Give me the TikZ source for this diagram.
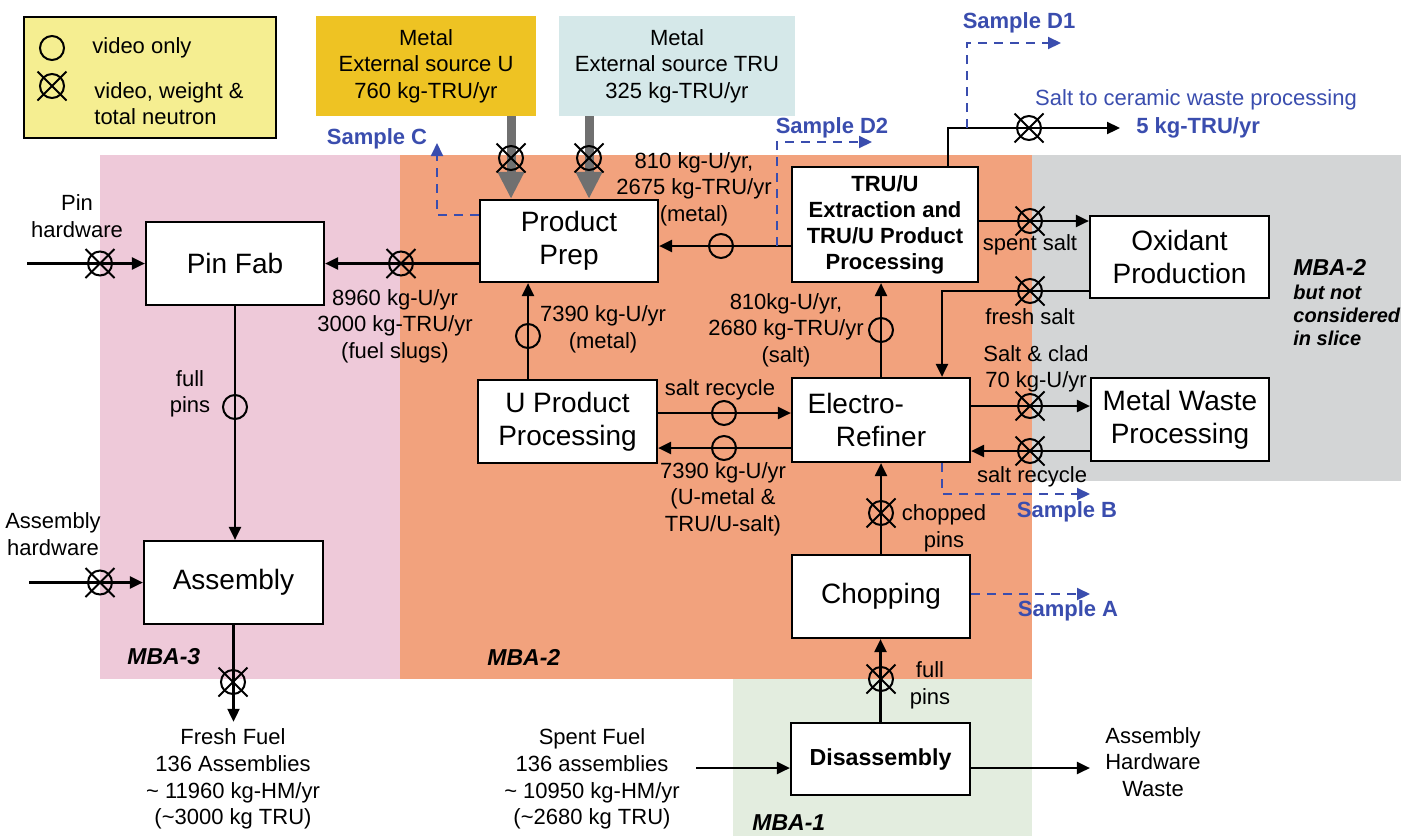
\documentclass[tikz,border=0pt]{standalone}
\usepackage{fontspec}
\setmainfont{Liberation Sans}
\usetikzlibrary{arrows.meta, positioning, shapes.misc}

\definecolor{mbapink}{HTML}{EEC9D9}
\definecolor{mbaorange}{HTML}{F2A27D}
\definecolor{mbagray}{HTML}{D3D5D6}
\definecolor{mbagreen}{HTML}{E3EDDF}
\definecolor{legendyellow}{HTML}{F5EE91}
\definecolor{srcgold}{HTML}{EEC323}
\definecolor{srcblue}{HTML}{D5E8E9}
\definecolor{sampleblue}{HTML}{3A4DAE}
\definecolor{feedgray}{HTML}{707070}

\tikzset{
  >={Triangle[length=6.5pt, width=6pt]}, % filled heads on all flows
  unit/.style={draw, fill=white, line width=1.1pt, align=center,
    font=\fontsize{14}{16.5}\selectfont}, % a process step
  boldunit/.style={unit, font=\fontsize{11}{13}\selectfont\bfseries},
  flow/.style={->, line width=1.1pt}, % material flow
  feed/.style={-{Triangle[length=13.5pt, width=12.5pt]}, draw=feedgray,
    line width=4.5pt}, % external metal feed
  sample/.style={->, draw=sampleblue, line width=1pt,
    dash pattern=on 4.5pt off 3.5pt}, % sampling point
  vonly/.style={draw, circle, line width=1pt, inner sep=0pt,
    minimum size=12pt}, % video only
  vwn/.style={vonly, label={[draw, cross out, line width=1pt,
    inner sep=0pt, minimum size=13.5pt]center:}}, % video, weight & neutron
  note/.style={align=center}, % text on the flows
  samplenote/.style={text=sampleblue, font=\fontsize{11}{13}\selectfont\bfseries},
  mba/.style={inner sep=0pt, font=\fontsize{11.5}{13}\selectfont\bfseries\itshape},
}

\begin{document}
\begin{tikzpicture}[x=0.5pt, y=-0.5pt, font=\fontsize{11}{13.3}\selectfont]
  \useasboundingbox (0,0) rectangle (1401,836);

  % material balance areas
  \fill[mbaorange] (400,155) rectangle (1032,679);
  \fill[mbapink] (100,155) rectangle (400,679);
  \fill[mbagray] (1032,155) rectangle (1401,481);
  \fill[mbagreen] (733,679) rectangle (1032,836);
  \node[mba, anchor=west] (mba3) at (127,657) {MBA-3};
  \node[mba, anchor=west] (mba2) at (487,657) {MBA-2};
  \node[mba, anchor=west] (mba1) at (752,823) {MBA-1};
  \node[mba, anchor=west] (mba2out) at (1293,267) {MBA-2};
  \node[mba, anchor=west, align=left, font=\fontsize{10}{11.5}\selectfont\bfseries\itshape]
    (notslice) at (1293,315) {but not\\considered\\in slice};

  % legend
  \node[draw, fill=legendyellow, line width=1.1pt, anchor=north west,
    minimum width=126pt, minimum height=60.5pt] (legend) at (23,16) {};
  \node[vonly] (legv) at (52,48) {};
  \node[vwn] (legw) at (52,86) {};
  \node[anchor=west, inner sep=0pt] (legvtext) at (92,48) {video only};
  \node[anchor=west, inner sep=0pt, align=left] (legwtext) at (94,103.5)
    {video, weight \&\\total neutron};

  % external sources
  \node[fill=srcgold, minimum width=110pt, minimum height=50pt, align=center]
    (srcU) at (426,66) {Metal\\External source U\\760 kg-TRU/yr};
  \node[fill=srcblue, minimum width=118pt, minimum height=50pt, align=center]
    (srcT) at (677,66) {Metal\\External source TRU\\325 kg-TRU/yr};

  % process steps
  \node[unit, minimum width=89pt, minimum height=41.5pt] (pinfab) at (235,263.5) {Pin Fab};
  \node[unit, minimum width=89.5pt, minimum height=41.5pt] (assembly) at (233.5,582.5) {Assembly};
  \node[unit, minimum width=89pt, minimum height=41pt] (prep) at (569,241) {Product\\Prep};
  \node[unit, minimum width=89.5pt, minimum height=41.5pt] (uproc) at (567.5,421.5) {U Product\\Processing};
  \node[boldunit, minimum width=93pt, minimum height=57.5pt] (extract) at (885,224.5)
    {TRU/U\\Extraction and\\TRU/U Product\\Processing};
  \node[unit, minimum width=89pt, minimum height=42pt] (refiner) at (881,420)
    {Electro-\hspace*{1.8em}\\Refiner};
  \node[unit, minimum width=89pt, minimum height=41.5pt] (chopping) at (881,596.5) {Chopping};
  \node[boldunit, font=\fontsize{11.6}{13}\selectfont\bfseries, minimum width=89.5pt,
    minimum height=36pt] (disassembly) at (880.5,759) {Disassembly};
  \node[unit, minimum width=89.5pt, minimum height=41pt] (oxidant) at (1179.5,257) {Oxidant\\Production};
  \node[unit, minimum width=89pt, minimum height=41.5pt] (mwaste) at (1180,419.5) {Metal Waste\\Processing};

  % feeds and products outside the slice
  \node[note] (fresh) at (233,779)
    {Fresh Fuel\\136 Assemblies\\\textasciitilde{} 11960 kg-HM/yr\\(\textasciitilde3000 kg TRU)};
  \node[note, inner xsep=8pt] (spent) at (592,779)
    {Spent Fuel\\136 assemblies\\\textasciitilde{} 10950 kg-HM/yr\\(\textasciitilde2680 kg TRU)};
  \node[note, inner xsep=7.5pt] (hwwaste) at (1153,762) {Assembly\\Hardware\\Waste};
  \node[text=sampleblue] (ceramictext) at (1196,100) {Salt to ceramic waste processing};
  \node[samplenote, anchor=west, inner xsep=8pt] (ceramic) at (1120,128) {5 kg-TRU/yr};

  % helper points for the flow lines
  \coordinate (pinhw) at (27,263.5);
  \coordinate (asmhw) at (29,582.5);
  \coordinate (feedU) at (511,0);
  \coordinate (feedT) at (589,0);
  \coordinate (yprod) at (0,246);
  \coordinate (xupp) at (528,0);
  \coordinate (ysr) at (0,413);
  \coordinate (yret) at (0,448);
  \coordinate (yspent) at (0,221);
  \coordinate (yfresh) at (0,291);
  \coordinate (xfresh) at (942,0);
  \coordinate (yclad) at (0,406);
  \coordinate (ymwr) at (0,451);
  \coordinate (xsalt) at (948,0);
  \coordinate (ydis) at (0,768);
  \coordinate (ysampc) at (0,215);

  % flows
  \draw[feed] (srcU.south -| feedU) -- (prep.north -| feedU);
  \draw[feed] (srcT.south -| feedT) -- (prep.north -| feedT);
  \draw[flow] (pinhw) -- (pinfab.west);
  \draw[flow] (prep.west |- pinfab.east) -- (pinfab.east);
  \draw[flow] (pinfab.south) -- (pinfab.south |- assembly.north);
  \draw[flow] (asmhw) -- (assembly.west);
  \draw[flow] (assembly.south) -- (assembly.south |- fresh.north);
  \draw[flow] (extract.west |- yprod) -- (prep.east |- yprod);
  \draw[flow] (uproc.north -| xupp) -- (prep.south -| xupp);
  \draw[flow] (uproc.east |- ysr) -- (refiner.west |- ysr);
  \draw[flow] (refiner.west |- yret) -- (uproc.east |- yret);
  \draw[flow] (refiner.north) -- (refiner.north |- extract.south);
  \draw[flow] (extract.east |- yspent) -- (oxidant.west |- yspent);
  \draw[flow] (oxidant.west |- yfresh) -| (refiner.north -| xfresh);
  \draw[flow] (refiner.east |- yclad) -- (mwaste.west |- yclad);
  \draw[flow] (mwaste.west |- ymwr) -- (refiner.east |- ymwr);
  \draw[flow] (chopping.north) -- (chopping.north |- refiner.south);
  \draw[flow] (disassembly.north) -- (disassembly.north |- chopping.south);
  \draw[flow] (spent.east |- ydis) -- (disassembly.west |- ydis);
  \draw[flow] (disassembly.east |- ydis) -- (hwwaste.west |- ydis);
  \draw[flow] (extract.north -| xsalt) |- (ceramic.west);

  % sampling points
  \coordinate (d1from) at (967,128);
  \coordinate (d1to) at (1061,43);
  \coordinate (d2from) at (777,246);
  \coordinate (d2to) at (872,142);
  \coordinate (scto) at (437,143);
  \coordinate (sbto) at (1090,494);
  \coordinate (sato) at (1090,594);
  \draw[sample] (d1from) |- (d1to);
  \draw[sample] (d2from) |- (d2to);
  \draw[sample] (prep.west |- ysampc) -| (scto);
  \draw[sample] (refiner.south -| xfresh) |- (sbto);
  \draw[sample] (chopping.east |- sato) -- (sato);
  \node[samplenote] (sampd1) at (1019,23) {Sample D1};
  \node[samplenote] (sampd2) at (832,128) {Sample D2};
  \node[samplenote] (sampc) at (377,139) {Sample C};
  \node[samplenote] (sampb) at (1067,512) {Sample B};
  \node[samplenote] (sampa) at (1068,611) {Sample A};

  % measurement points
  \node[vwn] (wU) at (511,158) {};
  \node[vwn] (wT) at (589,158) {};
  \node[vwn] (wpinhw) at (100,263.5) {};
  \node[vwn] (wslugs) at (401,263.5) {};
  \node[vwn] (wasmhw) at (100,582.5) {};
  \node[vwn] (wfresh) at (233,682) {};
  \node[vwn] (wceramic) at (1029,128) {};
  \node[vwn] (wspent) at (1030,221) {};
  \node[vwn] (wsalt) at (1030,291) {};
  \node[vwn] (wclad) at (1030,406) {};
  \node[vwn] (wrecycle) at (1030,451) {};
  \node[vwn] (wchop) at (881,513) {};
  \node[vwn] (wfull) at (881,679) {};
  \node[vonly] (vpins) at (235,407) {};
  \node[vonly] (vprod) at (721,246) {};
  \node[vonly] (vupp) at (528,336) {};
  \node[vonly] (vsr) at (724,413) {};
  \node[vonly] (vret) at (724,448) {};
  \node[vonly] (vsalt) at (881,330) {};

  % flow labels
  \node[note] (pinhwtext) at (77,216) {Pin\\hardware};
  \node[note] (asmhwtext) at (53,534) {Assembly\\hardware};
  \node[note] (slugs) at (395,326) {8960 kg-U/yr\\3000 kg-TRU/yr\\(fuel slugs)};
  \node[note] (pinstext) at (190,394) {full\\pins};
  \node[note] (prodmetal) at (694,189) {810 kg-U/yr,\\2675 kg-TRU/yr\\(metal)};
  \node[note] (uppmetal) at (603,329) {7390 kg-U/yr\\(metal)};
  \node[note] (ersalt) at (786,330) {810kg-U/yr,\\2680 kg-TRU/yr\\(salt)};
  \node[note] (srtext) at (720,390) {salt recycle};
  \node[note] (rettext) at (723,499) {7390 kg-U/yr\\(U-metal \&\\TRU/U-salt)};
  \node[note] (spenttext) at (1030,245) {spent salt};
  \node[note] (freshtext) at (1030,317) {fresh salt};
  \node[note] (cladtext) at (1036,369) {Salt \& clad\\70 kg-U/yr};
  \node[note] (recycletext) at (1032,477) {salt recycle};
  \node[note] (choptext) at (944,528) {chopped\\pins};
  \node[note] (fulltext) at (930,685) {full\\pins};
\end{tikzpicture}
\end{document}
